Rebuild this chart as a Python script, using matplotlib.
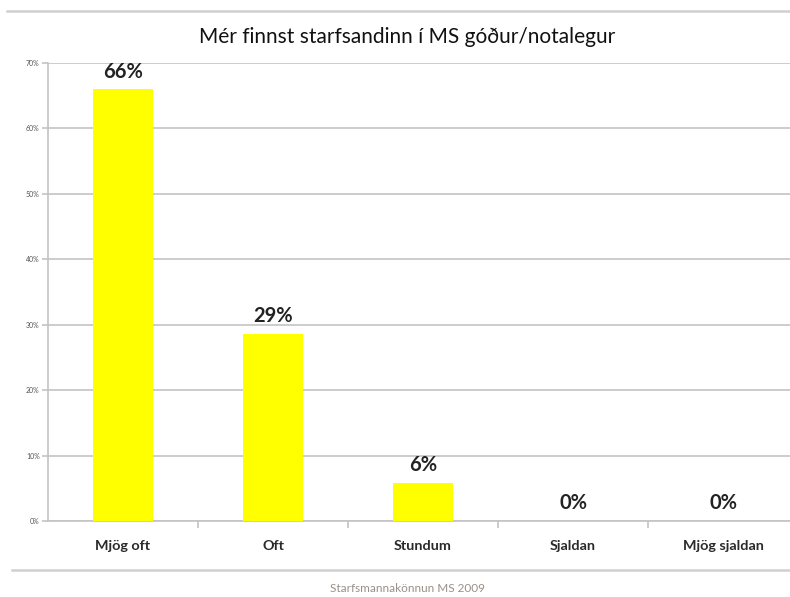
import matplotlib
matplotlib.use("Agg")
import matplotlib.pyplot as plt
from matplotlib.lines import Line2D

categories = ["Mjög oft", "Oft", "Stundum", "Sjaldan", "Mjög sjaldan"]
values = [66.0, 28.6, 5.8, 0.0, 0.0]
yticks = [0, 10, 20, 30, 40, 50, 60, 70]
title = "Mér finnst starfsandinn í MS góður/notalegur"
footer = "Starfsmannakönnun MS 2009"

plt.rcParams['font.family'] = ['Lato', 'DejaVu Sans']

fig = plt.figure(figsize=(7.9, 5.97), dpi=100)
W, H = 790, 597
ax = fig.add_axes([48 / W, 1 - 521 / H, 1 - 48 / W, (521 - 63) / H])

x = list(range(len(categories)))
ax.bar(x, values, width=0.40, color="#ffff00", zorder=3)

for xi, v in zip(x, values):
    ax.annotate(f"{v:.0f}%", (xi, v), xytext=(0, 5.5), textcoords="offset points",
                ha="center", va="bottom", fontsize=14.5, fontweight="bold", color="#222222")

ax.set_xlim(-0.5, -0.5 + (790 - 48) / 150.0)
ax.set_ylim(0, 70)
ax.set_yticks(yticks)
ax.set_yticklabels([f"{t}%" for t in yticks], fontsize=5, color="#555555")
ax.yaxis.grid(True, color="#c4c4c4", linewidth=1.2, zorder=0)
ax.tick_params(axis="y", length=4, color="#c4c4c4", width=1.2, pad=2)

ax.set_xticks([i + 0.5 for i in range(len(categories) - 1)])
ax.set_xticklabels([])
ax.set_xticks(x, minor=True)
ax.set_xticklabels(categories, minor=True, fontsize=10.4, fontweight="bold", color="#2a2a2a")
ax.tick_params(axis="x", which="major", length=5, color="#c4c4c4", width=1.2)
ax.tick_params(axis="x", which="minor", length=0, pad=14)

for s in ["top", "right"]:
    ax.spines[s].set_visible(False)
for s in ["left", "bottom"]:
    ax.spines[s].set_color("#c4c4c4")
    ax.spines[s].set_linewidth(1.2)

fig.text(407 / W, 1 - 37 / H, title, ha="center", va="center", fontsize=15, color="#111111")
fig.text(408 / W, 1 - 588 / H, footer, ha="center", va="center", fontsize=8.5, color="#9a8f86")

fig.add_artist(Line2D([7 / W, 1], [1 - 11 / H, 1 - 11 / H], transform=fig.transFigure,
                      color="#d0d0d0", linewidth=1.8))
fig.add_artist(Line2D([12 / W, 1], [1 - 570 / H, 1 - 570 / H], transform=fig.transFigure,
                      color="#d0d0d0", linewidth=1.8))

fig.savefig("out.png", dpi=100)
